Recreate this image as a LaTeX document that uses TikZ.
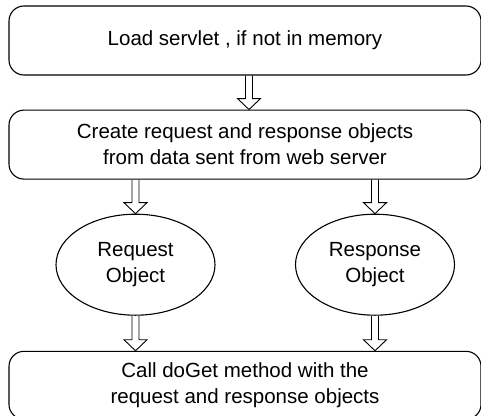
\documentclass[tikz,border=0pt]{standalone}
\usepackage{fontspec}
\setmainfont{Liberation Sans}
\usetikzlibrary{positioning,calc,shapes.geometric}
\newcommand{\fatarrow}[2]{%
  \draw[fat] let \p1=(#1), \p2=(#2) in
    (\x1-3.5pt,\y1) -- (\x1-3.5pt,\y2+11pt) -- (\x1-11.5pt,\y2+11pt) -- (\x2,\y2)
    -- (\x1+11.5pt,\y2+11pt) -- (\x1+3.5pt,\y2+11pt) -- (\x1+3.5pt,\y1);}

\begin{document}
\begin{tikzpicture}[x=1pt, y=1pt, node distance=34pt,
  font=\fontsize{20.5}{26}\selectfont,
  stepbox/.style={draw, line width=1.1pt, rounded corners=15pt, align=center, minimum width=472pt, minimum height=69pt, inner sep=0pt},
  obj/.style={draw, ellipse, line width=1.1pt, align=center, minimum width=159pt, minimum height=101pt, inner sep=0pt},
  fat/.style={line width=0.9pt, line join=miter}]
\useasboundingbox (0,0) rectangle (481,-415);
\node[stepbox] (load) at (245,-40.5) {Load servlet , if not in memory};
\node[stepbox, below=of load] (create) {Create request and response objects\\from data sent from web server};
\node[obj, below=of create.south, xshift=-109.5pt] (req) {Request\\Object};
\node[obj, below=of create.south, xshift=130pt] (resp) {Response\\Object};
\node[stepbox, below=35pt of create.south |- req.south, minimum height=68pt] (call) {Call doGet method with the\\request and response objects};
\fatarrow{$(load.south)+(4pt,0)$}{$(create.north)+(4pt,0)$}
\fatarrow{req.north |- create.south}{req.north}
\fatarrow{resp.north |- create.south}{resp.north}
\fatarrow{req.south}{req.south |- call.north}
\fatarrow{resp.south}{resp.south |- call.north}
\end{tikzpicture}
\end{document}
